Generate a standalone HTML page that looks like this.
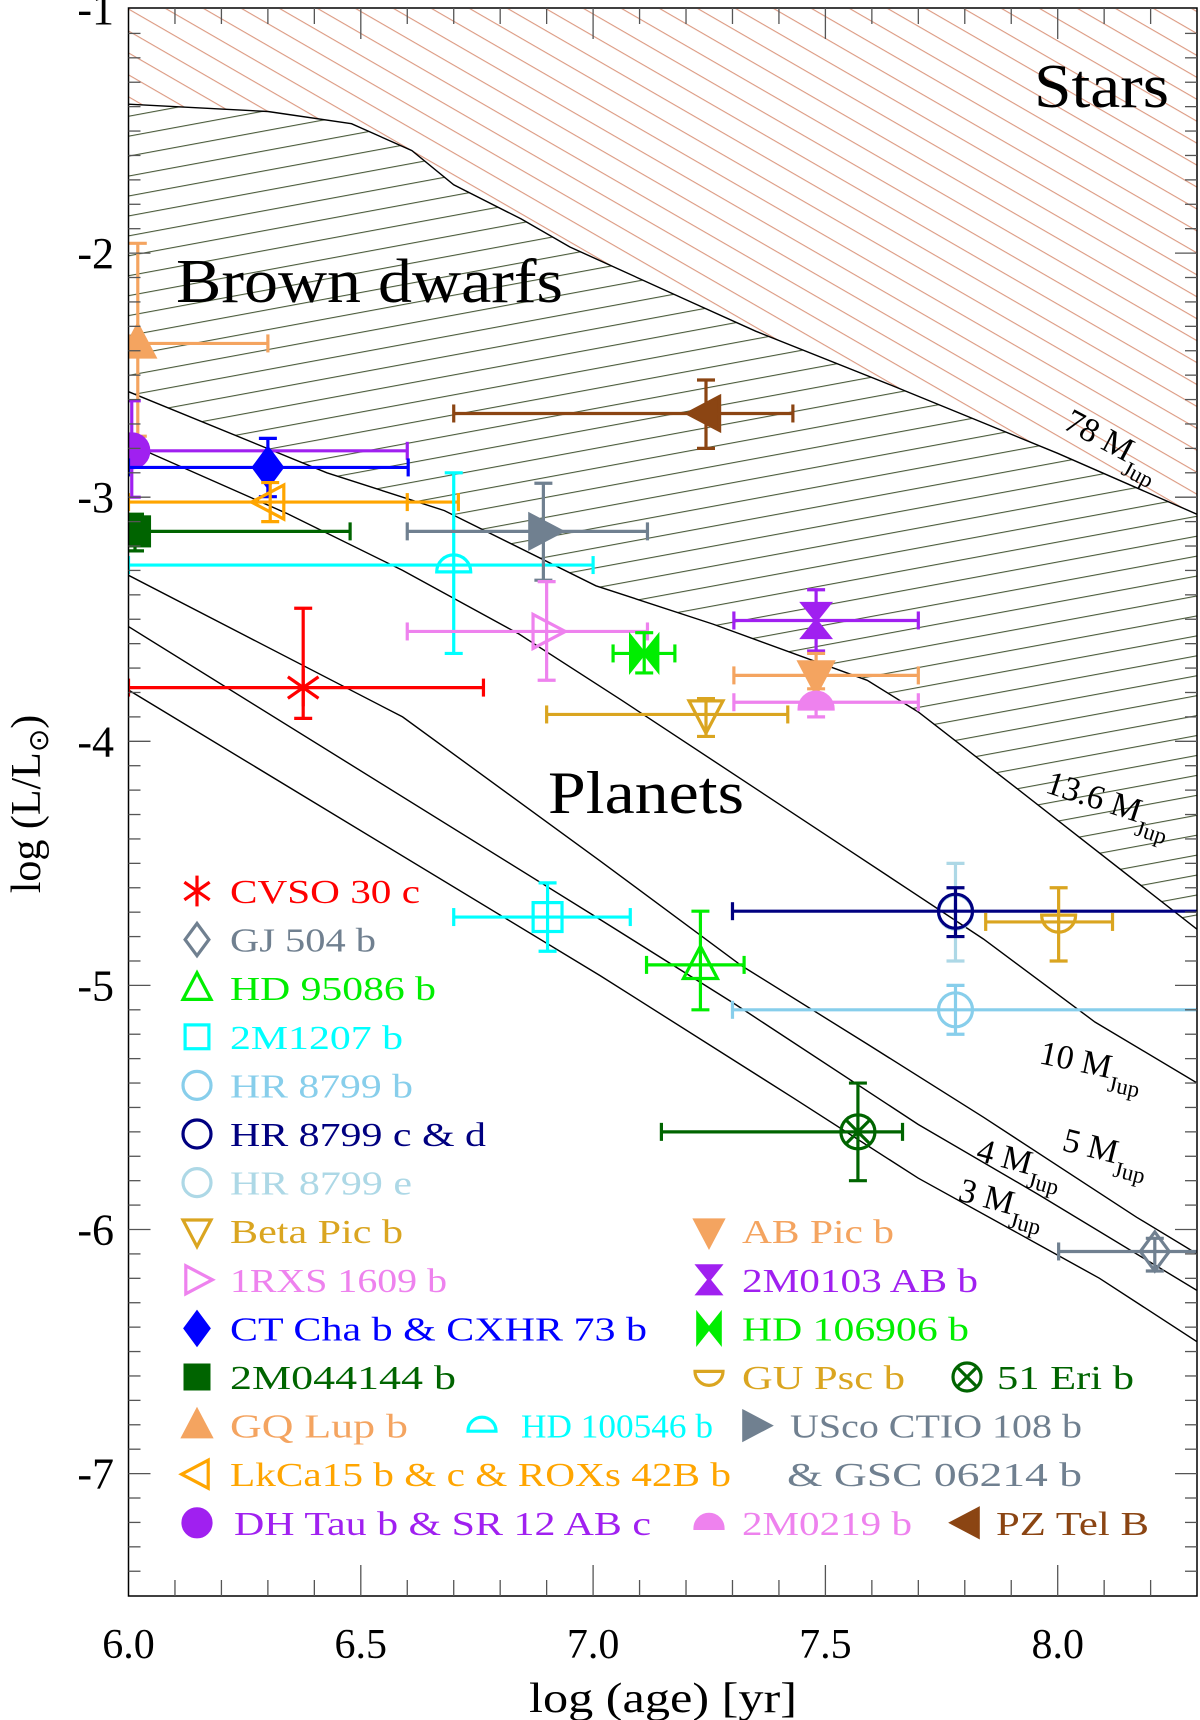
<!DOCTYPE html>
<html><head><meta charset="utf-8">
<style>
html,body{margin:0;padding:0;background:#fff;}
svg{display:block;font-family:"Liberation Serif",serif;}
text{font-family:"Liberation Serif",serif;}
</style></head>
<body>
<svg id="chart" width="1200" height="1720" viewBox="0 0 1200 1720" font-family="Liberation Serif, serif" xmlns="http://www.w3.org/2000/svg">
<defs>
<clipPath id="plotclip"><rect x="128.5" y="9" width="1068.5" height="1587"/></clipPath>
<pattern id="starhatch" patternUnits="userSpaceOnUse" width="19" height="19" patternTransform="rotate(30)">
<line x1="0" y1="0.5" x2="19" y2="0.5" stroke="#dc9a82" stroke-width="1.3"/>
</pattern>
<pattern id="bdhatch" patternUnits="userSpaceOnUse" width="20" height="19.6" patternTransform="rotate(-10.5)">
<line x1="0" y1="0.5" x2="20" y2="0.5" stroke="#4a5a3a" stroke-width="1.2"/>
</pattern>
</defs>
<g id="regions" clip-path="url(#plotclip)"></g>
<g id="curves" clip-path="url(#plotclip)"></g>
<g id="points" clip-path="url(#plotclip)"></g>
<g id="axes"></g>
<g id="labels"></g>
<g id="legend"></g>
</svg>
<script>
// ---- axis data ----
const xTicksMajor = [6.0, 6.5, 7.0, 7.5, 8.0];
const xTickLabels = ["6.0", "6.5", "7.0", "7.5", "8.0"];
const yTicksMajor = [-1, -2, -3, -4, -5, -6, -7];
const yTickLabels = ["-1", "-2", "-3", "-4", "-5", "-6", "-7"];

// ---- boundary / mass track curves (log age, log L) ----
const starAge = [6.0, 6.30, 6.48, 6.61, 6.70, 6.845, 6.95, 7.21, 7.35, 7.64, 8.0, 8.3];
const starLum = [-1.39, -1.42, -1.47, -1.58, -1.72, -1.86, -1.975, -2.20, -2.32, -2.54, -2.82, -3.07];
const d136Age = [6.0, 6.427, 6.68, 7.006, 7.258, 7.59, 7.70, 7.91, 8.3];
const d136Lum = [-2.568, -2.90, -3.055, -3.363, -3.52, -3.75, -3.88, -4.19, -4.77];
const m10Age = [6.0, 6.34, 6.59, 6.84, 7.06, 7.55, 7.84, 8.08, 8.3];
const m10Lum = [-2.78, -3.066, -3.30, -3.56, -3.83, -4.445, -4.81, -5.15, -5.40];
const m5Age = [6.0, 6.59, 7.015, 7.32, 7.59, 7.84, 8.17, 8.3];
const m5Lum = [-3.32, -3.90, -4.49, -4.92, -5.24, -5.54, -5.95, -6.10];
const m4Age = [6.0, 7.015, 7.30, 7.70, 7.957, 8.3];
const m4Lum = [-3.53, -4.73, -5.07, -5.57, -5.855, -6.25];
const m3Age = [6.0, 7.015, 7.43, 7.70, 7.957, 8.09, 8.3];
const m3Lum = [-3.79, -4.96, -5.46, -5.79, -6.06, -6.20, -6.46];

// ---- objects ----
const objNames = ["GQ Lup b","DH Tau b","CT Cha b","LkCa15 b","2M044144 b","HD 100546 b","USco CTIO 108 b","1RXS 1609 b","CVSO 30 c","PZ Tel B","HD 106906 b","2M0103 AB b","AB Pic b","2M0219 b","Beta Pic b","HR 8799 e","HR 8799 c","HR 8799 b","GU Psc b","HD 95086 b","51 Eri b","GJ 504 b","2M1207 b"];
const objAge   = [6.02, 6.007, 6.30, 6.305, 6.014, 6.70, 6.893, 6.90, 6.376, 7.243, 7.11, 7.48, 7.48, 7.48, 7.243, 7.78, 7.78, 7.78, 8.002, 7.231, 7.57, 8.209, 6.902];
const objAgeLo = [6.0, 6.0, 6.0, 6.0, 6.0, 6.0, 6.60, 6.60, 6.0, 6.70, 7.043, 7.303, 7.303, 7.303, 6.90, 7.78, 7.30, 7.30, 7.845, 7.115, 7.147, 8.002, 6.70];
const objAgeHi = [6.30, 6.60, 6.602, 6.71, 6.477, 7.0, 7.117, 7.117, 6.764, 7.43, 7.176, 7.70, 7.70, 7.70, 7.419, 7.78, 8.5, 8.5, 8.118, 7.325, 7.666, 8.5, 7.08];
const objLum   = [-2.37, -2.81, -2.878, -3.02, -3.14, -3.278, -3.14, -3.55, -3.78, -2.657, -3.64, -3.505, -3.73, -3.84, -3.89, -4.70, -4.696, -5.10, -4.74, -4.916, -5.60, -6.09, -4.72];
const objLumLo = [-2.75, -3.0, -2.998, -3.10, -3.22, -3.64, -3.34, -3.75, -3.906, -2.80, -3.72, -3.63, -3.785, -3.90, -3.98, -4.90, -4.80, -5.20, -4.90, -5.10, -5.80, -6.17, -4.86];
const objLumHi = [-1.96, -2.605, -2.759, -2.94, -3.07, -2.90, -2.943, -3.346, -3.455, -2.52, -3.555, -3.379, -3.64, -3.817, -3.825, -4.50, -4.60, -5.00, -4.60, -4.696, -5.40, -6.036, -4.58];
const objColor = ["#f4a460","#a020f0","#0000ff","#ffa500","#006400","#00ffff","#708090","#ee82ee","#ff0000","#8b4513","#00ee00","#a020f0","#f4a460","#ee82ee","#daa520","#add8e6","#000080","#87ceeb","#daa520","#00ee00","#006400","#708090","#00ffff"];
const objMarker = ["triup-f","circle-f","diamond-f","trileft","square-f","domeopen","triright-f","triright","asterisk","trileft-f","bowtie","hourglass","tridown-f","dome-f","tridown","circle","circle","circle","bowl","triup","otimes","diamond","square"];

const NS = "http://www.w3.org/2000/svg";
const X0 = 128.5, XS = 464.6, Y0 = 9, YS = 244.1;
function X(v){ return X0 + (v - 6) * XS; }
function Y(v){ return Y0 + (-1 - v) * YS; }
function mk(tag, attrs, parent){
  const e = document.createElementNS(NS, tag);
  for (const k in attrs) e.setAttribute(k, attrs[k]);
  if (parent) parent.appendChild(e);
  return e;
}
function pathFrom(ax, ly){
  let d = "";
  for (let i = 0; i < ax.length; i++) d += (i ? "L" : "M") + X(ax[i]).toFixed(1) + "," + Y(ly[i]).toFixed(1);
  return d;
}

// ---- regions ----
const gR = document.getElementById("regions");
let starPoly = pathFrom(starAge, starLum) + "L" + X(8.3) + "," + Y(-1) + "L" + X(6) + "," + Y(-1) + "Z";
const starRegion = mk("path", {d: starPoly, fill: "url(#starhatch)", stroke: "none"}, gR);


let bdPoly = pathFrom(starAge, starLum);
for (let i = d136Age.length - 1; i >= 0; i--) bdPoly += "L" + X(d136Age[i]).toFixed(1) + "," + Y(d136Lum[i]).toFixed(1);
bdPoly += "Z";
const bdRegion = mk("path", {d: bdPoly, fill: "url(#bdhatch)", stroke: "none"}, gR);



// ---- curves ----
const gC = document.getElementById("curves");
const curveSets = [[starAge, starLum, "curve-78-mjup"], [d136Age, d136Lum, "curve-13p6-mjup"], [m10Age, m10Lum, "curve-10-mjup"], [m5Age, m5Lum, "curve-5-mjup"], [m4Age, m4Lum, "curve-4-mjup"], [m3Age, m3Lum, "curve-3-mjup"]];
curveSets.forEach(c => {
  const p = mk("path", {d: pathFrom(c[0], c[1]), fill: "none", stroke: "#000", "stroke-width": 1.4}, gC);
  
  
});

// ---- marker drawing ----
function drawMarker(g, type, cx, cy, r, col){
  const filled = type.endsWith("-f");
  const t = type.replace("-f", "");
  const fill = filled ? col : "none";
  const sw = 3.2;
  const base = {stroke: col, "stroke-width": sw, fill: fill};
  let pts;
  switch (t) {
    case "circle": mk("circle", Object.assign({cx: cx, cy: cy, r: r}, base), g); break;
    case "square": mk("rect", Object.assign({x: cx - r*0.85, y: cy - r*0.85, width: r*1.7, height: r*1.7}, base), g); break;
    case "diamond": pts = [[cx, cy - r*1.15], [cx + r*0.85, cy], [cx, cy + r*1.15], [cx - r*0.85, cy]]; break;
    case "triup": pts = [[cx, cy - r*1.1], [cx + r, cy + r*0.8], [cx - r, cy + r*0.8]]; break;
    case "tridown": pts = [[cx - r, cy - r*0.8], [cx + r, cy - r*0.8], [cx, cy + r*1.1]]; break;
    case "triright": pts = [[cx - r*0.8, cy - r], [cx + r*1.1, cy], [cx - r*0.8, cy + r]]; break;
    case "trileft": pts = [[cx + r*0.8, cy - r], [cx - r*1.1, cy], [cx + r*0.8, cy + r]]; break;
    case "hourglass": pts = [[cx - r*0.8, cy - r], [cx + r*0.8, cy - r], [cx - r*0.8, cy + r], [cx + r*0.8, cy + r]]; base.fill = col; break;
    case "bowtie": pts = [[cx - r*0.8, cy - r], [cx + r*0.8, cy + r], [cx + r*0.8, cy - r], [cx - r*0.8, cy + r]]; base.fill = col; break;
    case "asterisk":
      [90, 35, -35].forEach(a => {
        const rad = a * Math.PI / 180, dx = Math.cos(rad) * r * 1.1, dy = Math.sin(rad) * r * 1.1;
        mk("line", {x1: cx - dx, y1: cy - dy, x2: cx + dx, y2: cy + dy, stroke: col, "stroke-width": sw}, g);
      });
      break;
    case "otimes":
      mk("circle", {cx: cx, cy: cy, r: r, stroke: col, "stroke-width": sw, fill: "none"}, g);
      [45, -45].forEach(a => {
        const rad = a * Math.PI / 180, dx = Math.cos(rad) * r, dy = Math.sin(rad) * r;
        mk("line", {x1: cx - dx, y1: cy - dy, x2: cx + dx, y2: cy + dy, stroke: col, "stroke-width": sw}, g);
      });
      break;
    case "domeopen": case "dome":
      mk("path", Object.assign({d: "M" + (cx - r) + "," + (cy + r*0.4) + "A" + r + "," + r + " 0 0 1 " + (cx + r) + "," + (cy + r*0.4) + "Z"}, base), g);
      break;
    case "bowl":
      mk("path", Object.assign({d: "M" + (cx - r) + "," + (cy - r*0.4) + "A" + r + "," + r + " 0 0 0 " + (cx + r) + "," + (cy - r*0.4) + "Z"}, base), g);
      break;
  }
  if (pts) mk("polygon", Object.assign({points: pts.map(p => p.join(",")).join(" ")}, base), g);
}

// ---- points with error bars ----
const gP = document.getElementById("points");
for (let i = 0; i < objNames.length; i++) {
  const g = mk("g", {}, gP);
  
  
  const col = objColor[i], cx = X(objAge[i]), cy = Y(objLum[i]);
  const xl = X(objAgeLo[i]), xh = X(objAgeHi[i]), yl = Y(objLumLo[i]), yh = Y(objLumHi[i]);
  const cap = 9, sw = 3.2;
  mk("line", {x1: xl, y1: cy, x2: xh, y2: cy, stroke: col, "stroke-width": sw}, g);
  mk("line", {x1: xl, y1: cy - cap, x2: xl, y2: cy + cap, stroke: col, "stroke-width": sw}, g);
  mk("line", {x1: xh, y1: cy - cap, x2: xh, y2: cy + cap, stroke: col, "stroke-width": sw}, g);
  mk("line", {x1: cx, y1: yl, x2: cx, y2: yh, stroke: col, "stroke-width": sw}, g);
  mk("line", {x1: cx - cap, y1: yl, x2: cx + cap, y2: yl, stroke: col, "stroke-width": sw}, g);
  mk("line", {x1: cx - cap, y1: yh, x2: cx + cap, y2: yh, stroke: col, "stroke-width": sw}, g);
  drawMarker(g, objMarker[i], cx, cy, 17, col);
}
(function(){
  const ex = mk("line", {x1: X(6.60), y1: Y(objLum[3]) - 9, x2: X(6.60), y2: Y(objLum[3]) + 9, stroke: "#ffa500", "stroke-width": 3.2}, gP);
  
  
})();

// ---- axes ----
const gA = document.getElementById("axes");
const frame = mk("rect", {x: X0, y: Y0 - 1, width: 1068.5, height: 1588, fill: "none", stroke: "#000", "stroke-width": 1.5}, gA);


for (let k = 1; k < 23; k++) {
  const v = 6 + k * 0.1, major = (k % 5 === 0), L = major ? 31 : 16, x = X(v);
  mk("line", {x1: x, y1: 1596, x2: x, y2: 1596 - L, stroke: "#555", "stroke-width": 1.3}, gA);
  mk("line", {x1: x, y1: 8, x2: x, y2: 8 + L, stroke: "#555", "stroke-width": 1.3}, gA);
}
for (let k = 1; k < 65; k++) {
  const v = -1 - k * 0.1, major = (k % 10 === 0), L = major ? 22 : 12, y = Y(v);
  mk("line", {x1: X0, y1: y, x2: X0 + L, y2: y, stroke: "#555", "stroke-width": 1.3}, gA);
  mk("line", {x1: 1197, y1: y, x2: 1197 - L, y2: y, stroke: "#555", "stroke-width": 1.3}, gA);
}
xTicksMajor.forEach((v, i) => {
  const t = mk("text", {x: X(v), y: 1658, "font-size": 42, "text-anchor": "middle", fill: "#000", "font-family": "Liberation Serif, serif"}, gA);
  t.textContent = xTickLabels[i];
  
  
});
yTicksMajor.forEach((v, i) => {
  const t = mk("text", {x: 114, y: Y(v) + 15, "font-size": 44, "text-anchor": "end", fill: "#000", "font-family": "Liberation Serif, serif"}, gA);
  t.textContent = yTickLabels[i];
  
  
});
</script>
<script>
(function(){
  const gL = document.getElementById("labels");
  function txt(s, attrs, name){
    const t = mk("text", Object.assign({fill: "#000", "font-family": "Liberation Serif, serif"}, attrs), gL);
    t.textContent = s;
    
    
    return t;
  }
  txt("log (age) [yr]", {x: 663, y: 1712, "font-size": 42, "text-anchor": "middle", textLength: 268, lengthAdjust: "spacingAndGlyphs"}, "x-axis-title");
  const yt = mk("text", {x: 0, y: 0, "font-size": 42, fill: "#000", "font-family": "Liberation Serif, serif", transform: "translate(40,804) rotate(-90)", "text-anchor": "middle"}, gL);
  
  
  yt.innerHTML = 'log (L/L<tspan font-size="28" dy="8">⊙</tspan><tspan dy="-8">)</tspan>';
  txt("Stars", {x: 1034, y: 107, "font-size": 62, textLength: 135, lengthAdjust: "spacingAndGlyphs"}, "stars-label");
  txt("Brown dwarfs", {x: 176, y: 302, "font-size": 62, textLength: 387, lengthAdjust: "spacingAndGlyphs"}, "brown-dwarfs-label");
  txt("Planets", {x: 548, y: 813, "font-size": 60, textLength: 196, lengthAdjust: "spacingAndGlyphs"}, "planets-label");
  function massLab(main, x, y, ang, name){
    const t = mk("text", {x: 0, y: 0, "font-size": 34, fill: "#000", "font-family": "Liberation Serif, serif", transform: "translate(" + x + "," + y + ") rotate(" + ang + ")"}, gL);
    
    
    t.innerHTML = main + ' M<tspan font-size="23" dy="13">Jup</tspan>';
  }
  massLab("78", 1062, 428, 28, "mass-label-78");
  massLab("13.6", 1044, 792, 18, "mass-label-13p6");
  massLab("10", 1038, 1063, 12, "mass-label-10");
  massLab("5", 1061, 1150, 14, "mass-label-5");
  massLab("4", 975, 1160, 15, "mass-label-4");
  massLab("3", 957, 1200, 15, "mass-label-3");
})();

const legText = ["CVSO 30 c","GJ 504 b","HD 95086 b","2M1207 b","HR 8799 b","HR 8799 c & d","HR 8799 e","Beta Pic b","1RXS 1609 b","CT Cha b & CXHR 73 b","2M044144 b","GQ Lup b","LkCa15 b & c & ROXs 42B b","DH Tau b & SR 12 AB c","AB Pic b","2M0103 AB b","HD 106906 b","GU Psc b","51 Eri b","HD 100546 b","USco CTIO 108 b","2M0219 b","PZ Tel B","& GSC 06214 b"];
const legRow = [0,1,2,3,4,5,6,7,8,9,10,11,12,13,7,8,9,10,10,11,11,13,13,12];
const legMarkX = [197,197,197,197,197,197,197,197,197,197,197,197,197,197,709,709,709,709,967,482,755,709,967,-1];
const legTextX = [230,230,230,230,230,230,230,230,230,230,230,230,230,234,742,742,742,742,997,521,790,742,996,787];
const legTextW = [190,146,206,173,183,256,182,173,217,417,226,178,501,417,152,236,227,163,137,192,292,170,153,295];
const legColor = ["#ff0000","#708090","#00ee00","#00ffff","#87ceeb","#000080","#add8e6","#daa520","#ee82ee","#0000ff","#006400","#f4a460","#ffa500","#a020f0","#f4a460","#a020f0","#00ee00","#daa520","#006400","#00ffff","#708090","#ee82ee","#8b4513","#708090"];
const legMarker = ["asterisk","diamond","triup","square","circle","circle","circle","tridown","triright","diamond-f","square-f","triup-f","trileft","circle-f","tridown-f","hourglass","bowtie","bowl","otimes","domeopen","triright-f","dome-f","trileft-f",""];
(function(){
  const gG = document.getElementById("legend");
  for (let i = 0; i < legText.length; i++) {
    const cy = 891 + legRow[i] * 48.6;
    const g = mk("g", {}, gG);
    
    
    if (legMarkX[i] > 0) drawMarker(g, legMarker[i], legMarkX[i], cy, 14, legColor[i]);
    const t = mk("text", {x: legTextX[i], y: cy + 12, "font-size": 34, fill: legColor[i], "font-family": "Liberation Serif, serif", textLength: legTextW[i], lengthAdjust: "spacingAndGlyphs"}, g);
    t.textContent = legText[i];
  }
})();
</script>
</body></html>
